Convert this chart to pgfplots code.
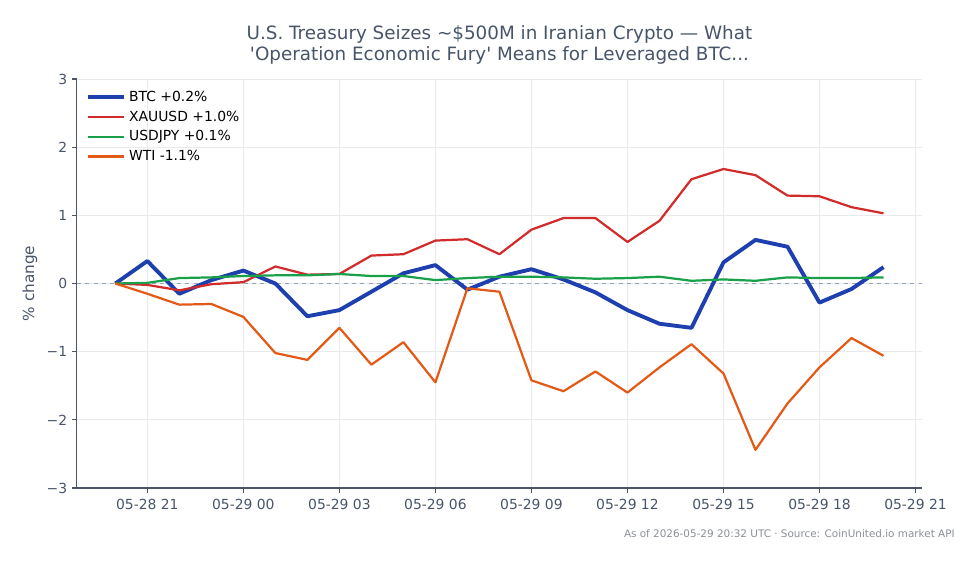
\documentclass[border=0pt]{standalone}
\usepackage{pgfplots}
\pgfplotsset{compat=1.18}
\usepackage{fontspec}
\setmainfont{DejaVu Sans}
% plain family, so straight quotes stay straight
\newfontfamily\plainfont{DejaVu Sans}

\definecolor{btcblue}{HTML}{1E40AF}
\definecolor{goldred}{HTML}{D22B2B}
\definecolor{jpygreen}{HTML}{1A9F4A}
\definecolor{wtiorange}{HTML}{E35A16}
\definecolor{slatetext}{HTML}{475569}
\definecolor{spine}{HTML}{4B5563}
\definecolor{gridc}{HTML}{E8EAEE}
\definecolor{zeroline}{HTML}{94A3B8}
\definecolor{notegray}{HTML}{8A8F98}

\begin{document}
\begin{tikzpicture}
\path[use as bounding box] (-55.4pt,-54.7pt) rectangle (649.5pt,351.4pt);
\begin{axis}[
  at={(0pt,0pt)}, anchor=south west,
  scale only axis, width=608.4pt, height=294.5pt,
  xmin=-1.2, xmax=25.2, ymin=-3, ymax=3,
  axis x line*=bottom, axis y line*=left,
  axis line style={draw=spine, line width=0.8pt, -},
  xtick={1,4,7,10,13,16,19,22,25},
  xticklabels={05-28 21,05-29 00,05-29 03,05-29 06,05-29 09,05-29 12,05-29 15,05-29 18,05-29 21},
  ytick={-3,-2,-1,0,1,2,3},
  yticklabels={−3,−2,−1,0,1,2,3},
  tick align=outside, major tick length=3.5pt,
  tick style={draw=spine, line width=0.8pt},
  ticklabel style={font=\fontsize{10}{12}\selectfont, text=slatetext},
  xticklabel style={yshift=-1pt},
  grid=major, major grid style={draw=gridc, line width=0.6pt},
  legend style={at={(0.0075,0.985)}, anchor=north west, draw=none, fill=none,
    font=\fontsize{10}{12}\selectfont, row sep=1.3pt, inner sep=2pt},
  legend cell align=left,
  legend image code/.code={\draw[#1] (0pt,0pt) -- (21.6pt,0pt); \path (21.6pt,0pt) -- (26pt,0pt);},
  clip=false,
]
% zero baseline
\addplot[draw=zeroline, dashed, line width=0.8pt, forget plot] coordinates {(-1.2,0) (25.2,0)};

\addplot[btcblue, line width=2.8pt, line join=round] coordinates {
(0,0) (1,0.33) (2,-0.15) (3,0.05) (4,0.19) (5,0.0) (6,-0.48) (7,-0.39) (8,-0.12)
(9,0.15) (10,0.27) (11,-0.09) (12,0.10) (13,0.21) (14,0.06) (15,-0.13) (16,-0.39)
(17,-0.59) (18,-0.65) (19,0.31) (20,0.64) (21,0.54) (22,-0.28) (23,-0.08) (24,0.24)};
\addlegendentry{BTC +0.2\%}

\addplot[goldred, line width=1.6pt, line join=round] coordinates {
(0,0) (1,-0.02) (2,-0.10) (3,-0.01) (4,0.02) (5,0.25) (6,0.13) (7,0.14) (8,0.41)
(9,0.43) (10,0.63) (11,0.65) (12,0.43) (13,0.79) (14,0.96) (15,0.96) (16,0.61)
(17,0.92) (18,1.53) (19,1.68) (20,1.59) (21,1.29) (22,1.28) (23,1.12) (24,1.03)};
\addlegendentry{XAUUSD +1.0\%}

\addplot[jpygreen, line width=1.6pt, line join=round] coordinates {
(0,0) (1,0.01) (2,0.08) (3,0.09) (4,0.11) (5,0.12) (6,0.12) (7,0.14) (8,0.11)
(9,0.11) (10,0.05) (11,0.08) (12,0.10) (13,0.10) (14,0.09) (15,0.07) (16,0.08)
(17,0.10) (18,0.04) (19,0.06) (20,0.04) (21,0.09) (22,0.08) (23,0.08) (24,0.09)};
\addlegendentry{USDJPY +0.1\%}

\addplot[wtiorange, line width=1.6pt, line join=round] coordinates {
(0,0) (1,-0.15) (2,-0.31) (3,-0.30) (4,-0.49) (5,-1.02) (6,-1.12) (7,-0.65) (8,-1.19)
(9,-0.86) (10,-1.45) (11,-0.07) (12,-0.12) (13,-1.42) (14,-1.58) (15,-1.29) (16,-1.60)
(17,-1.23) (18,-0.89) (19,-1.32) (20,-2.44) (21,-1.76) (22,-1.23) (23,-0.80) (24,-1.06)};
\addlegendentry{WTI -1.1\%}

% y axis label
\node[rotate=90, anchor=center, text=slatetext, font=\fontsize{11}{13}\selectfont]
  at ([xshift=-33.8pt]rel axis cs:0,0.5) {\% change};
% title and source note
\node[anchor=center, align=center, text=slatetext, font=\plainfont\fontsize{13.2}{15.1}\selectfont]
  at ([yshift=24.2pt]rel axis cs:0.5,1)
  {U.S. Treasury Seizes \textasciitilde\$500M in Iranian Crypto — What\\'Operation Economic Fury' Means for Leveraged BTC...};
\node[anchor=east, text=notegray, font=\fontsize{7.5}{9}\selectfont, inner sep=0pt]
  at ([xshift=23.8pt, yshift=-33.1pt]rel axis cs:1,0)
  {As of 2026-05-29 20:32 UTC · Source: CoinUnited.io market API};
\end{axis}
\end{tikzpicture}
\end{document}
